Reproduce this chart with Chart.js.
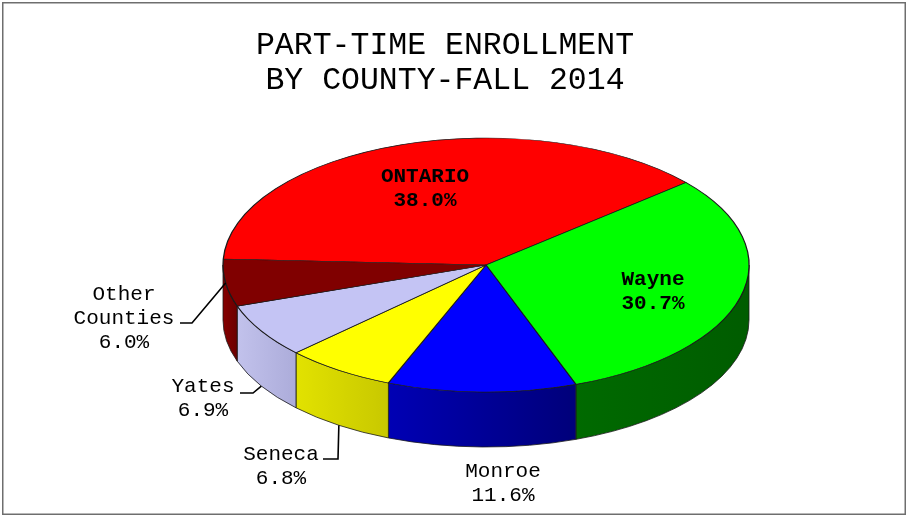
<!DOCTYPE html>
<html>
<head>
<meta charset="utf-8">
<title>Part-time enrollment by county</title>
<script src="https://cdn.jsdelivr.net/npm/chart.js@4.4.1/dist/chart.umd.min.js"></script>
<style>
  body { margin: 0; background: #fff; }
  canvas { display: block; }
</style>
</head>
<body>
<canvas id="pieChart" width="908" height="517"></canvas>
<script>
// Chart data
const counties = ['ONTARIO', 'Wayne', 'Monroe', 'Seneca', 'Yates', 'Other Counties'];
const shares = [38.0, 30.7, 11.6, 6.8, 6.9, 6.0];
const labelNames = [['ONTARIO'], ['Wayne'], ['Monroe'], ['Seneca'], ['Yates'], ['Other', 'Counties']];
const titleLines = ['PART-TIME ENROLLMENT', 'BY COUNTY-FALL 2014'];

// Colours: top face and side wall (light / dark end of gradient)
const topColors = ['#ff0000', '#00ff00', '#0000ff', '#ffff00', '#c4c4f4', '#800000'];
const sideColors = [
  ['#b00000', '#800000'],
  ['#006a00', '#005c00'],
  ['#0000b4', '#00007a'],
  ['#e2e200', '#c8c800'],
  ['#c2c2ec', '#acacda'],
  ['#860000', '#6a0000']
];

// Ellipse geometry on screen
const CX = 486, CY = 265, RX = 263, RY = 127, DEPTH = 55;
const FONT = '"Courier New", "Nimbus Mono PS", FreeMono, "Liberation Mono", monospace';

// Where each label goes (first baseline) and its leader line, if any
const labelLayout = [
  { x: 425, y: 182, bold: true },
  { x: 653, y: 285, bold: true },
  { x: 503, y: 477 },
  { x: 281, y: 460, lead: 'bottom', elbow: [338, 459], tail: [323, 459] },
  { x: 203, y: 392, lead: 'bottom', elbow: [253, 393], tail: [240, 393] },
  { x: 124, y: 300, lead: 'top', elbow: [192, 323], tail: [180, 323] }
];

function ellipsePoint(a, dz) {
  return { x: CX + RX * Math.cos(a), y: CY + RY * Math.sin(a) + (dz || 0) };
}

// Parts of [s, e] that face the viewer (angles 0..PI, any turn)
function frontRanges(s, e) {
  const out = [];
  for (let k = -1; k <= 2; k++) {
    const lo = Math.max(s, k * 2 * Math.PI);
    const hi = Math.min(e, k * 2 * Math.PI + Math.PI);
    if (hi > lo) out.push([lo, hi]);
  }
  return out;
}

// Draw side walls, then squash the library's arcs into the ellipse
const pie3d = {
  id: 'pie3d',
  beforeDatasetsDraw(chart) {
    const ctx = chart.ctx;
    const meta = chart.getDatasetMeta(0);

    meta.data.forEach((arc, i) => {
      const { startAngle, endAngle } = arc.getProps(['startAngle', 'endAngle'], true);
      frontRanges(startAngle, endAngle).forEach(([a0, a1]) => {
        const p0 = ellipsePoint(a0), p1 = ellipsePoint(a1);
        const grad = ctx.createLinearGradient(Math.min(p0.x, p1.x), 0, Math.max(p0.x, p1.x), 0);
        grad.addColorStop(0, sideColors[i][0]);
        grad.addColorStop(1, sideColors[i][1]);
        ctx.save();
        ctx.beginPath();
        ctx.ellipse(CX, CY, RX, RY, 0, a0, a1, false);
        ctx.ellipse(CX, CY + DEPTH, RX, RY, 0, a1, a0, true);
        ctx.closePath();
        ctx.fillStyle = grad;
        ctx.fill();
        ctx.strokeStyle = '#1a1a1a';
        ctx.lineWidth = 0.8;
        ctx.stroke();
        ctx.restore();
      });
    });

    const first = meta.data[0];
    const { x, y, outerRadius } = first.getProps(['x', 'y', 'outerRadius'], true);
    ctx.save();
    ctx.translate(CX, CY);
    ctx.scale(RX / outerRadius, RY / outerRadius);
    ctx.translate(-x, -y);
  },
  afterDatasetsDraw(chart) {
    chart.ctx.restore();
  },
  afterDraw(chart) {
    const ctx = chart.ctx;
    const meta = chart.getDatasetMeta(0);

    ctx.save();
    ctx.fillStyle = '#000';
    ctx.textAlign = 'center';
    ctx.textBaseline = 'alphabetic';

    meta.data.forEach((arc, i) => {
      const lay = labelLayout[i];
      const lines = labelNames[i].concat([shares[i].toFixed(1) + '%']);
      ctx.font = (lay.bold ? 'bold ' : '') + '21px ' + FONT;
      lines.forEach((t, j) => ctx.fillText(t, lay.x, lay.y + j * 24));

      if (lay.lead) {
        const { startAngle, endAngle } = arc.getProps(['startAngle', 'endAngle'], true);
        const mid = (startAngle + endAngle) / 2;
        const a = ellipsePoint(mid, lay.lead === 'bottom' ? DEPTH : 0);
        ctx.beginPath();
        ctx.moveTo(a.x, a.y);
        ctx.lineTo(lay.elbow[0], lay.elbow[1]);
        ctx.lineTo(lay.tail[0], lay.tail[1]);
        ctx.strokeStyle = '#000';
        ctx.lineWidth = 1.6;
        ctx.stroke();
      }
    });

    // outer frame
    ctx.strokeStyle = '#6e6e6e';
    ctx.lineWidth = 1.5;
    ctx.strokeRect(2.75, 2.75, 902.5, 511.5);
    ctx.restore();
  }
};

new Chart(document.getElementById('pieChart'), {
  type: 'pie',
  data: {
    labels: counties,
    datasets: [{
      data: shares,
      backgroundColor: topColors,
      borderColor: '#1a1a1a',
      borderWidth: 1,
      clip: false
    }]
  },
  options: {
    responsive: false,
    animation: false,
    events: [],
    rotation: 272.7,
    layout: { padding: { left: 0, right: 18, top: 0, bottom: 0 } },
    plugins: {
      legend: { display: false },
      tooltip: { enabled: false },
      title: {
        display: true,
        text: titleLines,
        color: '#000',
        font: { family: FONT, size: 31.5, weight: 'normal', lineHeight: 1.11 },
        padding: { top: 28, bottom: 10 }
      }
    }
  },
  plugins: [pie3d]
});
</script>
</body>
</html>
